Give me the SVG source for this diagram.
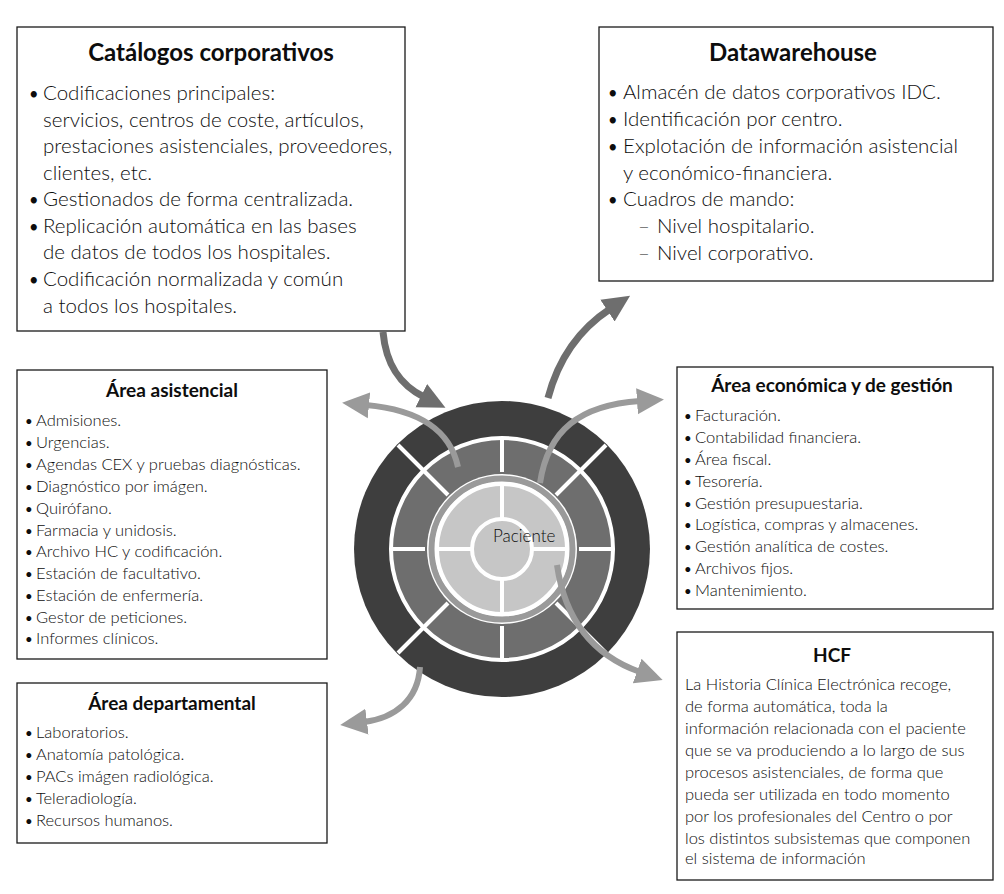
<svg xmlns="http://www.w3.org/2000/svg" width="1004" height="894" viewBox="0 0 1004 894">
<style>
.box{fill:#fff;stroke:#1a1a1a;stroke-width:1.3}
.t{font-family:Lato,"Open Sans","Liberation Sans",sans-serif;fill:#0d0d0d;font-weight:300}
.h1{font-size:24px;font-weight:700;text-anchor:middle}
.b1{font-size:20.5px}
.h2{font-size:19px;font-weight:700;text-anchor:middle}
.b2{font-size:16.5px}
.bu{font-size:80%;font-weight:400}
.arrL{fill:none;stroke:#9a9a9a;stroke-width:6}
.arrD{fill:none;stroke:#6e6e6e;stroke-width:7}
.sep{stroke:#fff;stroke-width:4}
</style>
<defs>
<marker id="mL" markerUnits="userSpaceOnUse" markerWidth="30" markerHeight="30" viewBox="0 0 30 30" refX="3" refY="15" orient="auto">
<path d="M0,2 L27,15 L0,28 Z" fill="#9a9a9a"/>
</marker>
<marker id="mD" markerUnits="userSpaceOnUse" markerWidth="30" markerHeight="30" viewBox="0 0 30 30" refX="3" refY="15" orient="auto">
<path d="M0,2 L27,15 L0,28 Z" fill="#6e6e6e"/>
</marker>
</defs>
<rect width="1004" height="894" fill="#fff"/>

<g id="catalogos">
<rect class="box" x="17" y="27" width="388" height="304"/>
<text class="t h1" x="211" y="61">Catálogos corporativos</text>
<text class="t b1" x="29" y="100"><tspan class="bu">•</tspan><tspan x="43">Codificaciones principales:</tspan></text>
<text class="t b1" x="43" y="127">servicios, centros de coste, artículos,</text>
<text class="t b1" x="43" y="153">prestaciones asistenciales, proveedores,</text>
<text class="t b1" x="43" y="180">clientes, etc.</text>
<text class="t b1" x="29" y="206"><tspan class="bu">•</tspan><tspan x="43">Gestionados de forma centralizada.</tspan></text>
<text class="t b1" x="29" y="233"><tspan class="bu">•</tspan><tspan x="43">Replicación automática en las bases</tspan></text>
<text class="t b1" x="43" y="259">de datos de todos los hospitales.</text>
<text class="t b1" x="29" y="286"><tspan class="bu">•</tspan><tspan x="43">Codificación normalizada y común</tspan></text>
<text class="t b1" x="43" y="313">a todos los hospitales.</text>
</g>

<g id="datawarehouse">
<rect class="box" x="599" y="27" width="394" height="254"/>
<text class="t h1" x="793" y="61">Datawarehouse</text>
<text class="t b1" x="608" y="99"><tspan class="bu">•</tspan><tspan x="623">Almacén de datos corporativos IDC.</tspan></text>
<text class="t b1" x="608" y="126"><tspan class="bu">•</tspan><tspan x="623">Identificación por centro.</tspan></text>
<text class="t b1" x="608" y="153"><tspan class="bu">•</tspan><tspan x="623">Explotación de información asistencial</tspan></text>
<text class="t b1" x="623" y="180">y económico-financiera.</text>
<text class="t b1" x="608" y="206"><tspan class="bu">•</tspan><tspan x="623">Cuadros de mando:</tspan></text>
<text class="t b1" x="638" y="233">–<tspan x="657">Nivel hospitalario.</tspan></text>
<text class="t b1" x="638" y="260">–<tspan x="657">Nivel corporativo.</tspan></text>
</g>

<g id="asistencial">
<rect class="box" x="17" y="370" width="310" height="289"/>
<text class="t h2" x="172" y="397">Área asistencial</text>
<text class="t b2" x="25" y="426"><tspan class="bu">•</tspan><tspan x="36">Admisiones.</tspan></text>
<text class="t b2" x="25" y="448"><tspan class="bu">•</tspan><tspan x="36">Urgencias.</tspan></text>
<text class="t b2" x="25" y="470"><tspan class="bu">•</tspan><tspan x="36">Agendas CEX y pruebas diagnósticas.</tspan></text>
<text class="t b2" x="25" y="492"><tspan class="bu">•</tspan><tspan x="36">Diagnóstico por imágen.</tspan></text>
<text class="t b2" x="25" y="514"><tspan class="bu">•</tspan><tspan x="36">Quirófano.</tspan></text>
<text class="t b2" x="25" y="536"><tspan class="bu">•</tspan><tspan x="36">Farmacia y unidosis.</tspan></text>
<text class="t b2" x="25" y="557"><tspan class="bu">•</tspan><tspan x="36">Archivo HC y codificación.</tspan></text>
<text class="t b2" x="25" y="579"><tspan class="bu">•</tspan><tspan x="36">Estación de facultativo.</tspan></text>
<text class="t b2" x="25" y="601"><tspan class="bu">•</tspan><tspan x="36">Estación de enfermería.</tspan></text>
<text class="t b2" x="25" y="623"><tspan class="bu">•</tspan><tspan x="36">Gestor de peticiones.</tspan></text>
<text class="t b2" x="25" y="644"><tspan class="bu">•</tspan><tspan x="36">Informes clínicos.</tspan></text>
</g>

<g id="departamental">
<rect class="box" x="17" y="683" width="310" height="160"/>
<text class="t h2" x="172" y="710">Área departamental</text>
<text class="t b2" x="25" y="738"><tspan class="bu">•</tspan><tspan x="36">Laboratorios.</tspan></text>
<text class="t b2" x="25" y="760"><tspan class="bu">•</tspan><tspan x="36">Anatomía patológica.</tspan></text>
<text class="t b2" x="25" y="782"><tspan class="bu">•</tspan><tspan x="36">PACs imágen radiológica.</tspan></text>
<text class="t b2" x="25" y="804"><tspan class="bu">•</tspan><tspan x="36">Teleradiología.</tspan></text>
<text class="t b2" x="25" y="826"><tspan class="bu">•</tspan><tspan x="36">Recursos humanos.</tspan></text>
</g>

<g id="economica">
<rect class="box" x="677" y="367" width="316" height="242"/>
<text class="t h2" x="832" y="392">Área económica y de gestión</text>
<text class="t b2" x="684" y="421"><tspan class="bu">•</tspan><tspan x="695">Facturación.</tspan></text>
<text class="t b2" x="684" y="443"><tspan class="bu">•</tspan><tspan x="695">Contabilidad financiera.</tspan></text>
<text class="t b2" x="684" y="465"><tspan class="bu">•</tspan><tspan x="695">Área fiscal.</tspan></text>
<text class="t b2" x="684" y="487"><tspan class="bu">•</tspan><tspan x="695">Tesorería.</tspan></text>
<text class="t b2" x="684" y="509"><tspan class="bu">•</tspan><tspan x="695">Gestión presupuestaria.</tspan></text>
<text class="t b2" x="684" y="530"><tspan class="bu">•</tspan><tspan x="695">Logística, compras y almacenes.</tspan></text>
<text class="t b2" x="684" y="552"><tspan class="bu">•</tspan><tspan x="695">Gestión analítica de costes.</tspan></text>
<text class="t b2" x="684" y="574"><tspan class="bu">•</tspan><tspan x="695">Archivos fijos.</tspan></text>
<text class="t b2" x="684" y="596"><tspan class="bu">•</tspan><tspan x="695">Mantenimiento.</tspan></text>
</g>

<g id="hcf">
<rect class="box" x="677" y="632" width="316" height="248"/>
<text class="t h2" x="832" y="662">HCF</text>
<text class="t b2" x="685" y="690">La Historia Clínica Electrónica recoge,</text>
<text class="t b2" x="685" y="712">de forma automática, toda la</text>
<text class="t b2" x="685" y="734">información relacionada con el paciente</text>
<text class="t b2" x="685" y="756">que se va produciendo a lo largo de sus</text>
<text class="t b2" x="685" y="778">procesos asistenciales, de forma que</text>
<text class="t b2" x="685" y="800">pueda ser utilizada en todo momento</text>
<text class="t b2" x="685" y="822">por los profesionales del Centro o por</text>
<text class="t b2" x="685" y="844">los distintos subsistemas que componen</text>
<text class="t b2" x="685" y="864">el sistema de información</text>
</g>

<g id="paciente">
<circle cx="502" cy="549" r="148" fill="#3e3e3e"/>
<circle cx="502" cy="549" r="111" fill="#6e6e6e" stroke="#fff" stroke-width="4"/>
<g class="sep">
<line x1="502" y1="438" x2="502" y2="472"/>
<line x1="502" y1="626" x2="502" y2="660"/>
<line x1="391" y1="549" x2="425" y2="549"/>
<line x1="579" y1="549" x2="613" y2="549"/>
<line x1="398" y1="445" x2="448" y2="495"/>
<line x1="606" y1="445" x2="556" y2="495"/>
<line x1="398" y1="653" x2="448" y2="603"/>
<line x1="606" y1="653" x2="556" y2="603"/>
</g>
<circle cx="502" cy="549" r="75" fill="#fff"/>
<circle cx="502" cy="549" r="70.5" fill="none" stroke="#9a9a9a" stroke-width="6"/>
<circle cx="502" cy="549" r="65" fill="#c6c6c6" stroke="#fff" stroke-width="4"/>
<g class="sep">
<line x1="502" y1="484" x2="502" y2="614"/>
<line x1="437" y1="549" x2="567" y2="549"/>
</g>
<circle cx="502" cy="549" r="30" fill="#c6c6c6" stroke="#fff" stroke-width="4"/>
<text class="t" x="493" y="542" font-size="17" font-weight="400">Paciente</text>
</g>

<g id="connectors">
<path class="arrD" d="M383,332 C386,365 400,385 424,397" marker-end="url(#mD)"/>
<path class="arrD" d="M548,398 C558,360 578,330 610,309" marker-end="url(#mD)"/>
<path class="arrL" d="M458,467 C450,430 420,410 366,405" marker-end="url(#mL)"/>
<path class="arrL" d="M540,483 C548,430 580,405 640,401" marker-end="url(#mL)"/>
<path class="arrL" d="M557,565 C565,620 592,655 640,672" marker-end="url(#mL)"/>
<path class="arrL" d="M420,667 C418,700 395,718 364,722" marker-end="url(#mL)"/>
</g>
</svg>
